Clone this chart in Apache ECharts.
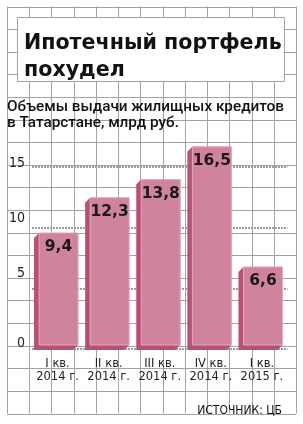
<!DOCTYPE html>
<html>
<head>
<meta charset="utf-8">
<script src="https://cdn.jsdelivr.net/npm/echarts@6/dist/echarts.min.js"></script>
<style>
html,body{margin:0;padding:0;background:#fff;}
#c{width:303px;height:424px;}
</style>
</head>
<body>
<div id="c"></div>
<script>
const categories = ['I кв.\n2014 г.', 'II кв.\n2014 г.', 'III кв.\n2014 г.', 'IV кв.\n2014 г.', 'I кв.\n2015 г.'];
const values = [9.4, 12.3, 13.8, 16.5, 6.6];
const yTicks = [0, 5, 10, 15];
const titleText = 'Ипотечный портфель\nпохудел';
const subtitleText = 'Объемы выдачи жилищных кредитов\nв Татарстане, млрд руб.';
const sourceText = 'ИСТОЧНИК: ЦБ';

const chart = echarts.init(document.getElementById('c'), null, {renderer: 'canvas'});

const narrow = '"DejaVu Sans Condensed", "Liberation Sans Narrow", sans-serif';

// decorative background grid (paper squares)
const bg = [];
const gx0 = 7, gx1 = 296, gy0 = 6.5, gy1 = 413.5;
const nx = 13, ny = 18;
const gridCol = '#a3a3a3';
for (let k = 0; k <= nx; k++) {
  const x = Math.round(gx0 + (gx1 - gx0) * k / nx) + 0.5;
  bg.push({type: 'line', z: -10, silent: true, shape: {x1: x, y1: gy0, x2: x, y2: gy1}, style: {stroke: gridCol, lineWidth: 1}});
}
for (let k = 0; k <= ny; k++) {
  const y = Math.round(gy0 + (gy1 - gy0) * k / ny) + 0.5;
  bg.push({type: 'line', z: -10, silent: true, shape: {x1: gx0, y1: y, x2: gx1, y2: y}, style: {stroke: gridCol, lineWidth: 1}});
}
// title box
bg.push({type: 'rect', z: -5, silent: true, shape: {x: 17.5, y: 17.5, width: 267, height: 64}, style: {fill: '#fff', stroke: gridCol, lineWidth: 1}});

const padMap = {0: 11, 5: 29, 10: 19, 15: 8};
const rich = {};
yTicks.forEach(t => { rich['l' + t] = {fontFamily: narrow, fontSize: 14, color: '#222', padding: [0, 0, padMap[t] || 0, 0]}; });

const option = {
  animation: false,
  backgroundColor: '#fff',
  graphic: {elements: bg},
  title: [
    {text: titleText, left: 19, top: 25, textStyle: {fontFamily: 'DejaVu Sans', fontWeight: 'bold', fontSize: 20.6, lineHeight: 27, color: '#111'}},
    {text: subtitleText, left: 2, top: 94, textStyle: {fontFamily: 'Roboto', fontWeight: 500, fontSize: 15.3, lineHeight: 16, color: '#111'}},
    {text: sourceText, right: 16, top: 400, textStyle: {fontFamily: narrow, fontWeight: 'normal', fontSize: 12, color: '#111'}}
  ],
  grid: {left: 32, right: 15.5, top: 106.4, bottom: 75},
  xAxis: {
    type: 'category', data: categories,
    axisLine: {show: false}, axisTick: {show: false},
    axisLabel: {interval: 0, margin: 8, fontFamily: narrow, fontSize: 12.8, lineHeight: 13, color: '#222'}
  },
  yAxis: {
    type: 'value', min: 0, max: 20, interval: 5,
    axisLine: {show: false}, axisTick: {show: false},
    axisLabel: {margin: 7, formatter: v => (v <= 15 ? '{l' + v + '|' + v + '}' : ''), rich: rich},
    splitLine: {show: true, lineStyle: {color: ['#9c9c9c', '#9c9c9c', '#9c9c9c', '#9c9c9c', 'rgba(0,0,0,0)'], width: 2, type: [2, 1]}}
  },
  series: [{
    type: 'custom',
    data: values.map((v, i) => [i, v]),
    renderItem: function (params, api) {
      const i = api.value(0), v = api.value(1);
      const top = api.coord([i, v]);
      const base = api.coord([i, 0]);
      const band = api.size([1, 0])[0];
      const fw = band * 0.763;
      const d = 5;
      const fx0 = top[0] - fw / 2 + 1, fx1 = top[0] + fw / 2 + 1;
      const fy0 = top[1] - 2, fy1 = base[1] - 4;
      const label = String(v).replace('.', ',');
      return {
        type: 'group',
        children: [
          {type: 'polygon', shape: {points: [[fx0, fy0], [fx1, fy0], [fx1, fy1], [fx1 - d, fy1 + d], [fx0 - d, fy1 + d], [fx0 - d, fy0 + d]]}, style: {fill: '#b94f73'}},
          {type: 'rect', shape: {x: fx0, y: fy0, width: fx1 - fx0, height: fy1 - fy0}, style: {fill: '#cf839c', stroke: '#e2aabd', lineWidth: 1}},
          {type: 'text', style: {text: label, x: (fx0 + fx1) / 2, y: fy0 + 6, align: 'center', verticalAlign: 'top', fontFamily: 'DejaVu Sans', fontWeight: 'bold', fontSize: 15.5, fill: '#1a1a1a'}}
        ]
      };
    }
  }]
};
chart.setOption(option);
</script>
</body>
</html>
